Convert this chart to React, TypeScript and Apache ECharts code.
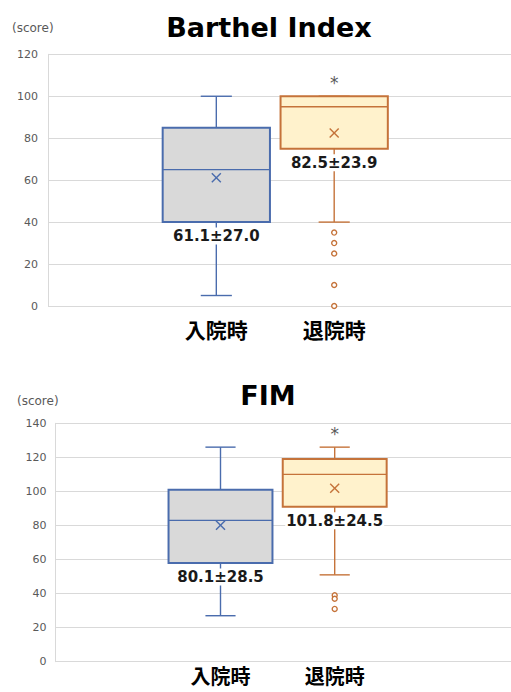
import React, { useEffect, useRef } from 'react';
import * as echarts from 'echarts';

// ---- data ----
const categories = ['入院時', '退院時'];

// Barthel Index: [min, Q1, median, Q3, max]
const barthelStats = [
  [5, 40, 65, 85, 100],
  [40, 75, 95, 100, 100],
];
const barthelMean = [61.1, 82.5];
const barthelSD = [27.0, 23.9];
const barthelOutliers = [[], [35, 30, 25, 10, 0]];
const barthelSig = ['', '*'];
const barthelYMax = 120;

// FIM: [min, Q1, median, Q3, max]
const fimStats = [
  [27, 58, 83, 101, 126],
  [51, 91, 110, 119, 126],
];
const fimMean = [80.1, 101.8];
const fimSD = [28.5, 24.5];
const fimOutliers = [[], [39, 37, 31]];
const fimSig = ['', '*'];
const fimYMax = 140;

const tickInterval = 20;

// ---- styles ----
const palette = [
  { line: '#4a6cad', fill: '#d9d9d9' },
  { line: '#c5733a', fill: '#fff2cc' },
];

const panels = [
  {
    title: 'Barthel Index', stats: barthelStats, mean: barthelMean, sd: barthelSD,
    outliers: barthelOutliers, sig: barthelSig, yMax: barthelYMax,
    top: 54.3, bottom: 306, gridLeft: 48, boxLeft: 39.5, boxWidth: 484,
    titleX: 269, titleY: 27, scoreX: 12, scoreY: 28, catMargin: 12, catSize: 21, tickMargin: 10,
  },
  {
    title: 'FIM', stats: fimStats, mean: fimMean, sd: fimSD,
    outliers: fimOutliers, sig: fimSig, yMax: fimYMax,
    top: 423.3, bottom: 661.7, gridLeft: 55, boxLeft: 49.2, boxWidth: 456.8,
    titleX: 268, titleY: 395, scoreX: 17, scoreY: 401, catMargin: 4, catSize: 20, tickMargin: 8.5,
  },
];

export default function App() {
  const ref = useRef<HTMLDivElement>(null);
  useEffect(() => {
    if (!ref.current) return;
    const chart = echarts.init(ref.current, undefined, { renderer: 'svg' });
    const grid: any[] = [];
    const xAxis: any[] = [];
    const yAxis: any[] = [];
    const series: any[] = [];
    const graphic: any[] = [];

    panels.forEach((p, pi) => {
      const height = p.bottom - p.top;
      const bg = pi * 2;
      const bx = pi * 2 + 1;
      grid.push({ left: p.gridLeft, top: p.top, width: 480, height });
      grid.push({ left: p.boxLeft, top: p.top, width: p.boxWidth, height });
      xAxis.push({ type: 'value', gridIndex: bg, show: false });
      yAxis.push({
        type: 'value', gridIndex: bg, min: 0, max: p.yMax, interval: tickInterval,
        axisLine: { show: true, lineStyle: { color: '#d9d9d9', width: 1 } },
        axisTick: { show: false },
        splitLine: { show: true, lineStyle: { color: '#d9d9d9', width: 1 } },
        axisLabel: { color: '#595959', fontSize: 11, fontFamily: 'DejaVu Sans', margin: p.tickMargin },
      });
      xAxis.push({
        type: 'category', gridIndex: bx, data: ['', ...categories, ''],
        axisLine: { show: false }, axisTick: { show: false }, splitLine: { show: false },
        axisLabel: {
          color: '#000', fontSize: p.catSize, fontWeight: 'bold', fontFamily: 'Noto Sans CJK JP',
          margin: p.catMargin, interval: 0, lineHeight: p.catSize,
        },
      });
      yAxis.push({ type: 'value', gridIndex: bx, min: 0, max: p.yMax, show: false, splitLine: { show: false } });

      const boxData = categories.map((c, i) => [c, ...p.stats[i], p.mean[i], p.sd[i]]);
      series.push({
        type: 'custom', xAxisIndex: bx, yAxisIndex: bx,
        encode: { x: 0, y: [1, 2, 3, 4, 5] },
        data: boxData,
        clip: false,
        renderItem: (params: any, api: any) => {
          const di = params.dataIndex;
          const col = palette[di];
          const idx = api.value(0);
          const cx = api.coord([idx, 0])[0];
          const band = api.size([1, 0])[0];
          const half = band * 0.455;
          const cap = band * 0.132;
          const y = (v: number) => api.coord([idx, v])[1];
          const mn = api.value(1), q1 = api.value(2), md = api.value(3), q3 = api.value(4), mx = api.value(5);
          const mean = api.value(6), sd = api.value(7);
          const ls = { stroke: col.line, lineWidth: 1.4 };
          const ym = y(mean);
          const children: any[] = [
            { type: 'line', shape: { x1: cx, y1: y(q1), x2: cx, y2: y(mn) }, style: ls },
            { type: 'line', shape: { x1: cx, y1: y(q3), x2: cx, y2: y(mx) }, style: ls },
            { type: 'line', shape: { x1: cx - cap, y1: y(mn), x2: cx + cap, y2: y(mn) }, style: ls },
            { type: 'line', shape: { x1: cx - cap, y1: y(mx), x2: cx + cap, y2: y(mx) }, style: ls },
            {
              type: 'rect', shape: { x: cx - half, y: y(q3), width: half * 2, height: y(q1) - y(q3) },
              style: { fill: col.fill, stroke: col.line, lineWidth: 2 },
            },
            { type: 'line', shape: { x1: cx - half, y1: y(md), x2: cx + half, y2: y(md) }, style: ls },
            { type: 'line', shape: { x1: cx - 4.5, y1: ym - 4.5, x2: cx + 4.5, y2: ym + 4.5 }, style: ls },
            { type: 'line', shape: { x1: cx - 4.5, y1: ym + 4.5, x2: cx + 4.5, y2: ym - 4.5 }, style: ls },
            {
              type: 'text',
              style: {
                text: `${Number(mean).toFixed(1)}±${Number(sd).toFixed(1)}`,
                x: cx, y: y(q1) + 14, align: 'center', verticalAlign: 'middle',
                fontSize: 15, fontWeight: 'bold', fontFamily: 'DejaVu Sans', fill: '#1a1a1a',
                backgroundColor: '#fff', padding: [1, 1],
              },
            },
          ];
          if (p.sig[di]) {
            children.push({
              type: 'text',
              style: {
                text: p.sig[di], x: cx, y: y(mx) - 13, align: 'center', verticalAlign: 'middle',
                fontSize: 17, fontFamily: 'DejaVu Sans', fill: '#595959',
              },
            });
          }
          return { type: 'group', children };
        },
      });

      const outData: any[] = [];
      categories.forEach((c, i) => p.outliers[i].forEach((v) => outData.push([c, v])));
      series.push({
        type: 'scatter', xAxisIndex: bx, yAxisIndex: bx, data: outData,
        symbol: 'circle', symbolSize: 5,
        itemStyle: { color: '#fff', borderColor: palette[1].line, borderWidth: 1.4, opacity: 1 },
      });

      graphic.push({
        type: 'text', x: p.titleX, y: p.titleY,
        style: { text: p.title, fontSize: 27, fontWeight: 'bold', fontFamily: 'DejaVu Sans', fill: '#000', align: 'center', verticalAlign: 'middle' },
      });
      graphic.push({
        type: 'text', x: p.scoreX, y: p.scoreY,
        style: { text: '(score)', fontSize: 12, fontFamily: 'DejaVu Sans', fill: '#595959', align: 'left', verticalAlign: 'middle' },
      });
    });

    chart.setOption({ animation: false, backgroundColor: '#fff', grid, xAxis, yAxis, series, graphic });
    return () => chart.dispose();
  }, []);
  return <div ref={ref} style={{ position: 'absolute', left: 0, top: 0, width: 511, height: 692 }} />;
}
